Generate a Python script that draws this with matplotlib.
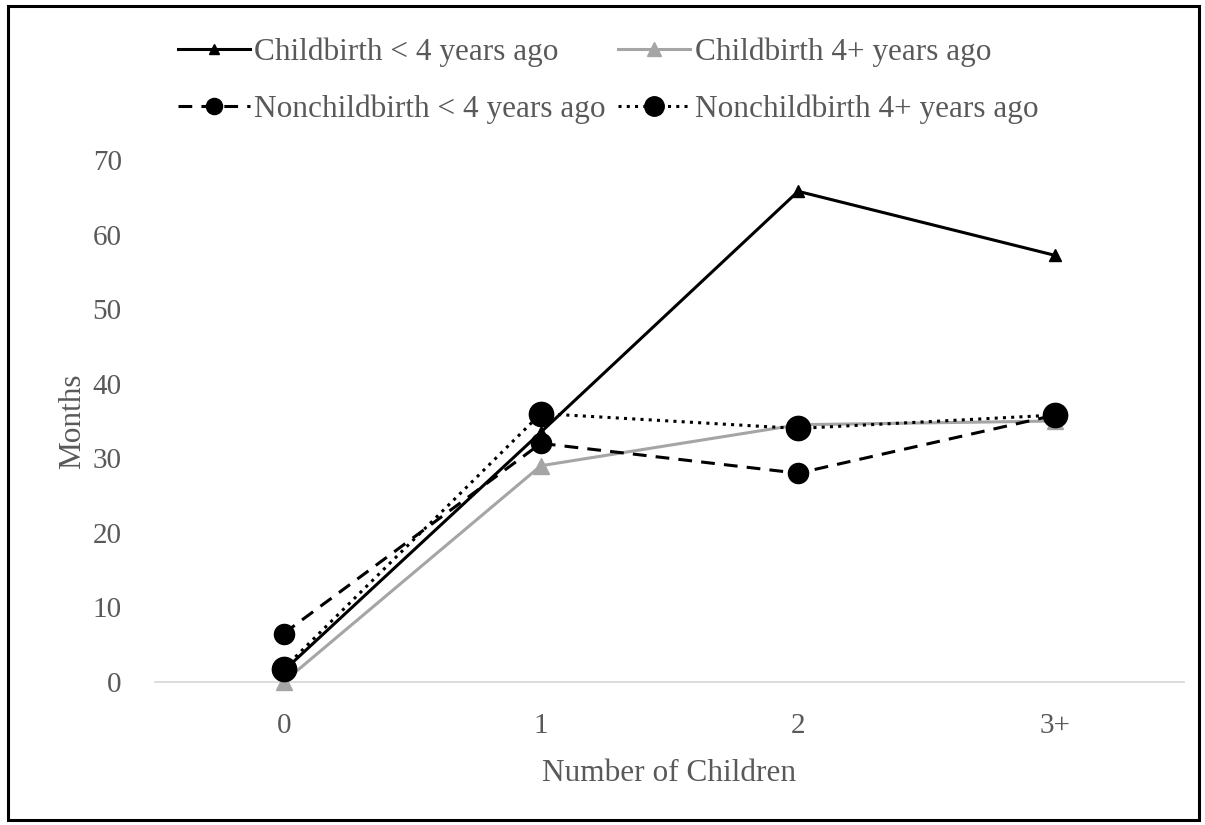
import matplotlib
matplotlib.use("Agg")
import matplotlib.pyplot as plt
from matplotlib.patches import Rectangle

categories = ["0", "1", "2", "3+"]
childbirth_lt4 = [1.5, 33.5, 65.8, 57.2]
childbirth_4plus = [0.0, 29.0, 34.5, 35.0]
nonchild_lt4 = [6.5, 32.0, 28.0, 35.8]
nonchild_4plus = [1.8, 36.0, 34.0, 35.8]
yticks = [0, 10, 20, 30, 40, 50, 60, 70]

plt.rcParams['font.family'] = ['Liberation Serif', 'DejaVu Serif']
txt = '#595959'
fs = 22.5

fig = plt.figure(figsize=(12.05, 8.25), dpi=100)
ax = fig.add_axes([155/1205, 1 - 682/825, (1184-155)/1205, (682-160)/825])

x = list(range(len(categories)))
l1, = ax.plot(x, childbirth_lt4, color='black', lw=2.2, marker='^', ms=9,
              label='Childbirth < 4 years ago', zorder=3)
l2, = ax.plot(x, childbirth_4plus, color='#a5a5a5', lw=2.2, marker='^', ms=12,
              label='Childbirth 4+ years ago', zorder=4)
l3, = ax.plot(x, nonchild_lt4, color='black', lw=2.2, ls=(0, (4.5, 3)), marker='o', ms=14.5,
              label='Nonchildbirth < 4 years ago', zorder=5)
l4, = ax.plot(x, nonchild_4plus, color='black', lw=2.2, ls=(0, (1, 1.7)),
              marker='o', ms=17.5, label='Nonchildbirth 4+ years ago', zorder=6)

ax.set_xlim(-0.5, len(categories) - 0.5)
ax.set_ylim(0, 70)
ax.set_xticks(x)
ax.set_xticklabels(categories)
ax.set_yticks(yticks)
for s in ['top', 'right', 'left']:
    ax.spines[s].set_visible(False)
ax.spines['bottom'].set_color('#d9d9d9')
ax.spines['bottom'].set_linewidth(1.3)
ax.tick_params(axis='both', length=0, labelsize=21, colors=txt)
ax.tick_params(axis='x', pad=22)
ax.tick_params(axis='y', pad=24)
ax.set_xlabel('Number of Children', fontsize=fs, color=txt, labelpad=15)
ax.set_ylabel('Months', fontsize=fs, color=txt, labelpad=4)
for ln in (l1, l2, l3, l4):
    ln.set_clip_on(False)

fig.legend(handles=[l1, l3, l2, l4], loc='upper left', bbox_to_anchor=(162/1205, 1 - 22/825),
           ncol=2, frameon=False, fontsize=fs, labelcolor=txt, handlelength=2.3,
           handletextpad=0.15, columnspacing=0.4, labelspacing=0.88, borderpad=0,
           markerscale=0.8)

fig.patches.append(Rectangle((8/1205, 5/825), (1199-8)/1205, (819-5)/825,
                             transform=fig.transFigure, fill=False, lw=2.2, ec='black'))

fig.savefig('out.png', dpi=100)
